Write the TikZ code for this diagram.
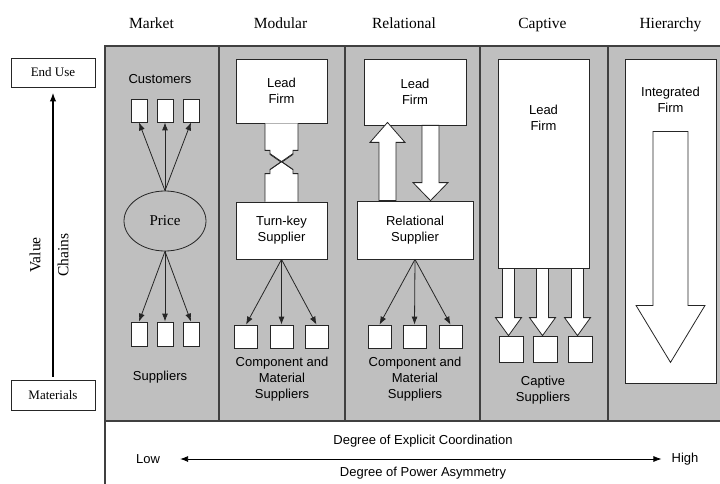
\documentclass[tikz,border=0pt]{standalone}
\usepackage{fontspec}
\setmainfont{Liberation Serif}
\setsansfont{Liberation Sans}
\usetikzlibrary{arrows.meta, positioning, calc, shapes.geometric}
\tikzstyle{firm}=[draw=black!85, line width=0.8pt, fill=white, rectangle, inner sep=0pt]
\tikzstyle{unit}=[firm, minimum width=23pt, minimum height=23pt]
\tikzstyle{sans}=[font=\fontsize{13}{16}\selectfont\sffamily, align=center, inner sep=0pt]
\tikzstyle{serif}=[font=\fontsize{13}{16}\selectfont, inner sep=0pt]
\tikzstyle{title}=[font=\fontsize{15.5}{18}\selectfont, inner sep=0pt]
\tikzstyle{link}=[-{Latex[length=8pt,width=6pt]}, line width=0.8pt, black!85]
\tikzstyle{frame}=[black!75, line width=1.4pt]

% hollow block arrow: tail, tip, half shaft, half head, head length
\newcommand{\fatarrow}[5]{%
  \draw[firm] let \p1=(#1), \p2=(#2), \n1={sign(\y2-\y1)} in
    (\x1-#3pt,\y1) -- (\x1-#3pt,\y2-\n1*#5pt) -- (\x1-#4pt,\y2-\n1*#5pt)
    -- (\x1,\y2) -- (\x1+#4pt,\y2-\n1*#5pt) -- (\x1+#3pt,\y2-\n1*#5pt)
    -- (\x1+#3pt,\y1) -- cycle;}

\begin{document}
\begin{tikzpicture}[x=1pt, y=-1pt]
  \useasboundingbox (0,0) rectangle (720,484);

  % governance columns
  \fill[gray!50] (105,46) rectangle (720,421);
  \draw[frame] (105,484) -- (105,46) -- (720,46);
  \draw[frame] (105,421) -- (720,421);
  \foreach \x in {219,345,480,608}
    \draw[frame] (\x,46) -- (\x,421);

  \node[title, anchor=base] (tmarket) at (151.5,28.5) {Market};
  \node[title, anchor=base] (tmodular) at (280.5,28.5) {Modular};
  \node[title, anchor=base] (trelational) at (404,28.5) {Relational};
  \node[title, anchor=base] (tcaptive) at (542.5,28.5) {Captive};
  \node[title, anchor=base] (thierarchy) at (670.5,28.5) {Hierarchy};

  % value chain axis
  \node[firm, serif, minimum width=84pt, minimum height=29pt] (enduse) at (53,72.5) {End Use};
  \node[firm, serif, minimum width=84pt, minimum height=30pt] (materials) at (53,395) {Materials};
  \draw[-{Latex[length=9pt,width=6.5pt]}, line width=2pt]
    ([yshift=3pt]materials.north) -- ([yshift=-5pt]enduse.south);
  \node[title, rotate=90] (value) at (35,255) {Value};
  \node[title, rotate=90] (chains) at (63,255) {Chains};

  % market
  \node[sans] (customers) at (160,79) {Customers};
  \node[draw=black!85, line width=0.8pt, fill=gray!50, ellipse, minimum width=82pt,
    minimum height=60pt, inner sep=0pt, font=\fontsize{15}{18}\selectfont] (price) at (165,221) {Price};
  \foreach \i/\x in {1/139,2/165,3/191} {
    \node[unit, minimum width=16pt] (cust\i) at (\x,110.5) {};
    \node[unit, minimum width=16pt, minimum height=24pt] (sup\i) at (\x,334) {};
    \draw[link] (price.north) -- (cust\i.south);
    \draw[link] (price.south) -- (sup\i.north);
  }
  \node[sans] (suppliers) at (160,377) {Suppliers};

  % modular
  \node[firm, sans, minimum width=91pt, minimum height=64pt] (lead2) at (281.5,91) {Lead\\Firm};
  \node[firm, sans, minimum width=91pt, minimum height=57pt] (turnkey) at (281.5,230.5) {Turn-key\\Supplier};
  \begin{scope}[shift={(lead2.south)}]
    \draw[firm] (-16.5,0) -- (-16.5,27) -- (-11.5,27) -- (-11.5,31) -- (0,39)
      -- (11.5,31) -- (11.5,27) -- (16.5,27) -- (16.5,0);
  \end{scope}
  \begin{scope}[shift={(turnkey.north)}]
    \draw[firm] (-16.5,0) -- (-16.5,-28) -- (-11.5,-28) -- (-11.5,-32) -- (0,-40)
      -- (11.5,-32) -- (11.5,-28) -- (16.5,-28) -- (16.5,0);
    \draw[black!85, line width=0.8pt] (-11.5,-32) -- (11.5,-48) (11.5,-32) -- (-11.5,-48);
  \end{scope}
  \foreach \i/\x in {1/246,2/281.5,3/316.5} {
    \node[unit] (comp\i) at (\x,336.5) {};
    \draw[link] (turnkey.south) -- (comp\i.north);
  }
  \node[sans] (complabel) at (282,379) {Component and\\Material\\Suppliers};

  % relational
  \node[firm, sans, minimum width=102pt, minimum height=66pt] (lead3) at (415,92) {Lead\\Firm};
  \node[firm, sans, minimum width=116pt, minimum height=58pt] (relsup) at (415,230) {Relational\\Supplier};
  \fatarrow{$(relsup.north)+(-27.5,0)$}{$(lead3.south)+(-27.5,-3)$}{8.5}{17.5}{20}
  \fatarrow{$(lead3.south)+(15.5,0)$}{$(relsup.north)+(15.5,0)$}{8.5}{17.5}{18}
  \foreach \i/\x in {1/379.5,2/414.5,3/450.5} {
    \node[unit] (rcomp\i) at (\x,336.5) {};
    \draw[link] (relsup.south) -- (rcomp\i.north);
  }
  \node[sans] (rcomplabel) at (415,379) {Component and\\Material\\Suppliers};

  % captive
  \node[firm, minimum width=91pt, minimum height=209pt] (lead4) at (543.5,163.5) {};
  \node[sans] (lead4txt) at ($(lead4.north)+(0,59)$) {Lead\\Firm};
  \foreach \i/\x in {1/511,2/545,3/580} {
    \node[unit, minimum width=24pt, minimum height=26pt] (cap\i) at (\x,349) {};
    \fatarrow{$(cap\i.north |- lead4.south)+(-2.5,0)$}{$(cap\i.north)+(-2.5,0)$}{6}{13}{18}
  }
  \node[sans] (caplabel) at (543,390.5) {Captive\\Suppliers};

  % hierarchy
  \node[firm, minimum width=91pt, minimum height=324pt] (intfirm) at (670.5,221) {};
  \node[sans] (intfirmtxt) at (670.5,100) {Integrated\\Firm};
  \fatarrow{$(intfirm.north)+(0,73)$}{$(intfirm.south)+(0,-21)$}{17.5}{34.5}{57}

  % coordination axis
  \node[sans] (coord) at (423,441) {Degree of Explicit Coordination};
  \node[sans] (power) at (423,473) {Degree of Power Asymmetry};
  \node[sans] (low) at (148,459) {Low};
  \node[sans] (high) at (685,459) {High};
  \draw[{Latex[length=8pt,width=6pt]}-{Latex[length=8pt,width=6pt]}, line width=0.8pt]
    ([xshift=20pt]low.east) -- ([xshift=-10pt]high.west);
\end{tikzpicture}
\end{document}
